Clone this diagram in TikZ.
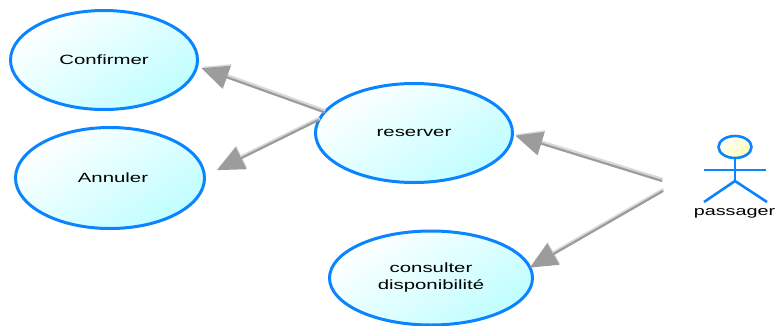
\documentclass[tikz,border=0pt]{standalone}
\usepackage{fontspec}
\setmainfont[FakeStretch=1.52]{Liberation Sans}
\usetikzlibrary{shapes.geometric, arrows.meta}
\definecolor{umlblue}{HTML}{0A84FF}
\definecolor{umlcyan}{HTML}{C0FEFF}
\definecolor{umlgray}{HTML}{9C9C9C}
\tikzset{
	usecase/.style={ellipse, draw=umlblue, line width=3pt, inner sep=0pt, outer sep=0pt, left color=white, right color=umlcyan, shading angle=35, align=center, font=\fontsize{13.4}{17}\selectfont, text=black},
	include/.style={draw=umlgray, line width=2.2pt, -{Triangle[length=27pt, width=24pt, fill=umlgray]}, preaction={draw=black!15, line width=3.6pt, transform canvas={shift={(0.5pt,1.4pt)}}}},
	limb/.style={draw=umlblue, line width=2.6pt},
}

\begin{document}
\begin{tikzpicture}[x=1pt, y=-1pt]
	\useasboundingbox (0,0) rectangle (776,325);

	\node[usecase, minimum width=187pt, minimum height=99pt] (confirmer) at (104,60) {Confirmer};
	\node[usecase, minimum width=189pt, minimum height=101pt] (annuler) at (110,178) {\hspace{6pt}Annuler};
	\node[usecase, minimum width=197pt, minimum height=99pt] (reserver) at (414,133) {reserver};
	\node[usecase, minimum width=203pt, minimum height=94pt] (consulter) at (431,278) {consulter\\disponibilité};

	\node[ellipse, draw=umlblue, line width=2.6pt, minimum width=33pt, minimum height=22pt, inner sep=0pt, left color=white, right color=yellow!30, shading angle=35] (head) at (735,147) {};
	\coordinate (hip) at (735,181);
	\coordinate (armL) at (704,170);
	\coordinate (armR) at (766,170);
	\coordinate (legL) at (704,202);
	\coordinate (legR) at (767,202);
	\node[font=\fontsize{13}{17}\selectfont, inner sep=0pt, text=black] (passager) at (734.5,213) {passager};

	\coordinate (fromA) at (662,181);
	\coordinate (fromB) at (663,191);

	\draw[limb] (head) -- (hip);
	\draw[limb] (armL) -- (armR);
	\draw[limb] (legL) -- (hip) -- (legR);

	\draw[include, shorten >=5pt] (reserver.167) -- (confirmer.-4);
	\draw[include, shorten >=14pt] (reserver.172) -- (annuler.1);
	\draw[include, shorten >=3pt] (fromA) -- (reserver.-1);
	\draw[include] (fromB) -- (consulter.6);
\end{tikzpicture}
\end{document}
